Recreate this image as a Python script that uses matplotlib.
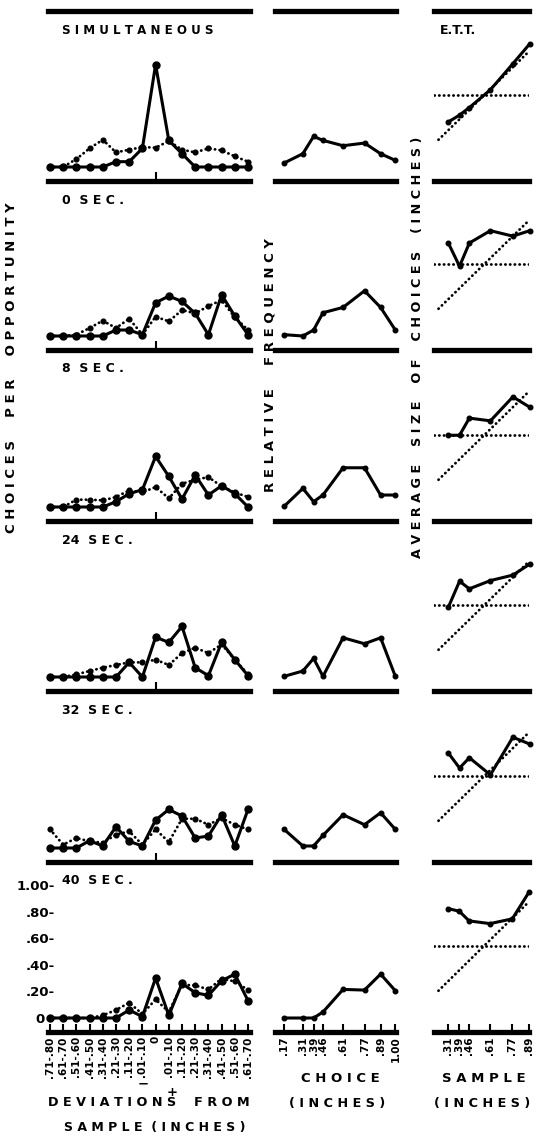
import matplotlib
matplotlib.use("Agg")
import matplotlib.pyplot as plt

# ---------------- data ----------------
conditions = ["SIMULTANEOUS", "0 SEC.", "8 SEC.", "24 SEC.", "32 SEC.", "40 SEC."]

dev_labels = [".71-.80", ".61-.70", ".51-.60", ".41-.50", ".31-.40", ".21-.30", ".11-.20", ".01-.10", "0",
              ".01-.10", ".11-.20", ".21-.30", ".31-.40", ".41-.50", ".51-.60", ".61-.70"]

# choices per opportunity (solid line)
obs_sim = [0, 0, 0, 0, 0, .04, .04, .14, .77, .20, .10, 0, 0, 0, 0, 0]
obs_0s = [0, 0, 0, 0, 0, .045, .045, .01, .25, .30, .26, .17, .01, .31, .15, .01]
obs_8s = [0, 0, 0, 0, 0, .04, .10, .13, .38, .23, .06, .24, .09, .16, .10, 0]
obs_24s = [0, 0, 0, 0, 0, 0, .11, 0, .30, .26, .38, .07, .01, .26, .13, .01]
obs_32s = [0, 0, 0, .055, .015, .16, .05, .015, .21, .29, .24, .075, .09, .25, .015, .29]
obs_40s = [0, 0, 0, 0, 0, 0, .06, .01, .30, .02, .26, .19, .17, .28, .33, .13]

# choices per opportunity (dotted line)
exp_sim = [0, 0, .06, .14, .205, .11, .13, .15, .145, .195, .13, .11, .14, .125, .08, .04]
exp_0s = [0, 0, .01, .06, .115, .06, .13, .01, .145, .11, .195, .17, .225, .27, .14, .045]
exp_8s = [0, 0, .055, .055, .05, .075, .125, .11, .15, .065, .175, .205, .225, .155, .11, .075]
exp_24s = [0, 0, .02, .045, .07, .09, .11, .11, .13, .09, .18, .22, .18, .245, .13, .02]
exp_32s = [.14, .025, .075, .05, .04, .10, .125, .025, .14, .045, .22, .22, .175, .225, .175, .14]
exp_40s = [0, 0, 0, 0, .02, .06, .115, .03, .14, .045, .25, .245, .215, .295, .275, .21]

# relative frequency of each choice size
choice_sizes = [.17, .31, .39, .46, .61, .77, .89, 1.00]
choice_labels = [".17", ".31", ".39", ".46", ".61", ".77", ".89", "1.00"]
freq_sim = [.03, .10, .23, .20, .16, .18, .10, .05]
freq_0s = [.01, 0, .045, .175, .215, .34, .215, .045]
freq_8s = [.005, .14, .04, .09, .295, .295, .09, .09]
freq_24s = [.005, .045, .14, .005, .295, .25, .295, .005]
freq_32s = [.14, .015, .015, .095, .25, .175, .265, .14]
freq_40s = [0, 0, 0, .045, .215, .21, .33, .205]

# average size of choices for each sample size
sample_sizes = [.31, .39, .46, .61, .77, .89]
sample_labels = [".31", ".39", ".46", ".61", ".77", ".89"]
avg_sim = [.37, .42, .475, .605, .795, .94]
avg_0s = [.72, .55, .72, .81, .77, .81]
avg_8s = [.565, .565, .69, .67, .845, .77]
avg_24s = [.55, .74, .685, .745, .785, .865]
avg_32s = [.735, .625, .70, .575, .85, .80]
avg_40s = [.84, .82, .75, .73, .765, .96]

mean_sample = 0.57
identity_range = [0.24, 0.89]

obs = [obs_sim, obs_0s, obs_8s, obs_24s, obs_32s, obs_40s]
exp = [exp_sim, exp_0s, exp_8s, exp_24s, exp_32s, exp_40s]
freq = [freq_sim, freq_0s, freq_8s, freq_24s, freq_32s, freq_40s]
avg = [avg_sim, avg_0s, avg_8s, avg_24s, avg_32s, avg_40s]

# ---------------- layout (pixels) ----------------
W, H = 542, 1138
plt.rcParams['font.family'] = ['DejaVu Sans']
plt.rcParams['font.weight'] = 'bold'

fig = plt.figure(figsize=(W / 100, H / 100), dpi=100)


def fx(x):
    return x / W


def fy(y):
    return 1 - y / H


bar_y = [181, 350, 521, 691, 862, 1032]
panel_h = 170
cols = [(48, 250), (275, 396), (434, 529)]
bar_lw = 3.8


def make_ax(r, c):
    x0, x1 = cols[c]
    ax = fig.add_axes([fx(x0), fy(bar_y[r]), (x1 - x0) / W, panel_h / H])
    for s in ['left', 'right', 'top']:
        ax.spines[s].set_visible(False)
    ax.spines['bottom'].set_linewidth(bar_lw)
    if r == 0:
        ax.spines['top'].set_visible(True)
        ax.spines['top'].set_linewidth(bar_lw)
    ax.set_yticks([])
    ax.set_xticks([])
    ax.patch.set_visible(False)
    return ax


dot_ls = (0, (0.1, 1.6))
idx = list(range(len(dev_labels)))

for r in range(6):
    # left column: choices per opportunity
    ax = make_ax(r, 0)
    ax.set_xlim(-0.15, 15.15)
    ax.set_ylim(-14 / 133, 156 / 133)
    ax.plot(idx, exp[r], color='k', lw=2.0, ls=dot_ls, dash_capstyle='round',
            marker='o', ms=3.4, clip_on=False)
    ax.plot(idx, obs[r], color='k', lw=2.2, marker='o', ms=5, clip_on=False)
    if r < 5:
        ax.set_xticks([8])
        ax.tick_params(axis='x', direction='in', length=6.5, width=1.5, labelbottom=False)
    else:
        ax.set_xticks(idx)
        ax.set_xticklabels(dev_labels, rotation=90, fontsize=7.5, fontweight='bold', va='top')
        ax.tick_params(axis='x', direction='in', length=6, width=1.5, pad=3)
        ax.set_yticks([0, .2, .4, .6, .8, 1.0])
        ax.set_yticklabels(["0  ", ".20-", ".40-", ".60-", ".80-", "1.00-"], fontsize=9.5, fontweight='bold')
        ax.tick_params(axis='y', length=0, pad=-5)

    # middle column: relative frequency
    ax = make_ax(r, 1)
    ax.set_xlim(0.102, 1.005)
    ax.set_ylim(-14 / 133, 156 / 133)
    ax.plot(choice_sizes, freq[r], color='k', lw=2.2, marker='o', ms=3.3, clip_on=False)
    if r == 5:
        ax.set_xticks(choice_sizes)
        ax.set_xticklabels(choice_labels, rotation=90, fontsize=7.5, fontweight='bold', va='top')
        ax.tick_params(axis='x', direction='in', length=6, width=1.5, pad=3)

    # right column: average size of choices
    ax = make_ax(r, 2)
    ax.set_xlim(0.208, 0.885)
    ax.set_ylim(-0.061, -0.061 + panel_h / 137)
    ax.axhline(mean_sample, color='k', lw=2.0, ls=dot_ls, dash_capstyle='round')
    ax.plot(identity_range, identity_range, color='k', lw=2.0, ls=dot_ls, dash_capstyle='round')
    ax.plot(sample_sizes, avg[r], color='k', lw=2.2, marker='o', ms=3.3, clip_on=False)
    if r == 5:
        ax.set_xticks(sample_sizes)
        ax.set_xticklabels(sample_labels, rotation=90, fontsize=7.5, fontweight='bold', va='top')
        ax.tick_params(axis='x', direction='in', length=6, width=1.5, pad=3)

# condition titles
title_kw = dict(fontsize=9, fontweight='bold', va='center', ha='left')
fig.text(fx(62), fy(30), "S I M U L T A N E O U S", fontsize=8.6, fontweight='bold', va='center', ha='left')
fig.text(fx(440), fy(30), "E.T.T.", **title_kw)
for r in range(1, 6):
    num, sec = conditions[r].split(" ")
    fig.text(fx(62), fy(bar_y[r - 1] + 19), num + "  " + " ".join(sec), **title_kw)

# axis titles
lab_kw = dict(fontsize=9.5, fontweight='bold', va='center', ha='center')
fig.text(fx(12), fy(368), "C H O I C E S     P E R     O P P O R T U N I T Y", rotation=90, **lab_kw)
fig.text(fx(270), fy(365), "R E L A T I V E     F R E Q U E N C Y", rotation=90, **lab_kw)
fig.text(fx(417), fy(347), "A V E R A G E    S I Z E    O F    C H O I C E S    ( I N C H E S )",
         rotation=90, fontsize=9.2, fontweight='bold', va='center', ha='center')

fig.text(fx(143), fy(1084), "\u2212", **lab_kw)
fig.text(fx(172), fy(1092), "+", **lab_kw)
fig.text(fx(149), fy(1103), "D E V I A T I O N S    F R O M", fontsize=9.2, fontweight='bold',
         va='center', ha='center')
fig.text(fx(155), fy(1128), "S A M P L E  ( I N C H E S )", fontsize=9, fontweight='bold',
         va='center', ha='center')
fig.text(fx(340), fy(1079), "C H O I C E", **lab_kw)
fig.text(fx(337), fy(1104), "( I N C H E S )", fontsize=9.2, fontweight='bold', va='center', ha='center')
fig.text(fx(484), fy(1079), "S A M P L E", **lab_kw)
fig.text(fx(482), fy(1104), "( I N C H E S )", fontsize=9.2, fontweight='bold', va='center', ha='center')

fig.savefig("out.png", dpi=100)
